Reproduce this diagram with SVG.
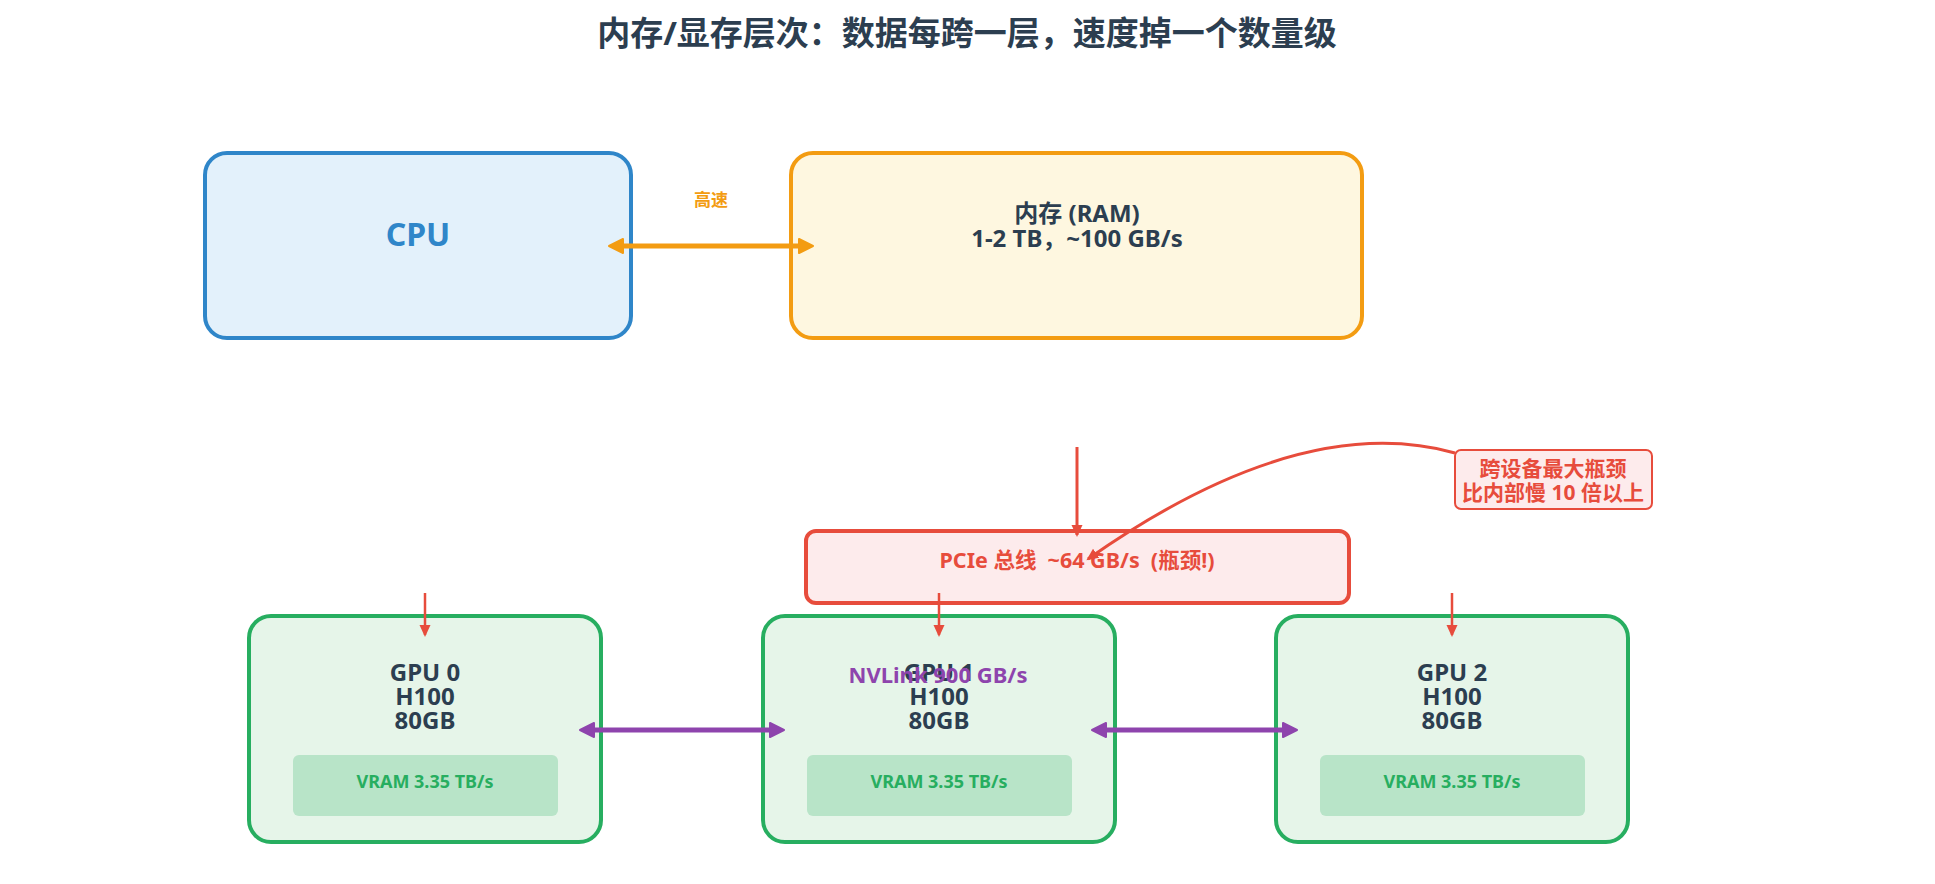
<svg xmlns="http://www.w3.org/2000/svg" width="1935" height="884" viewBox="0 0 1935 884">
<style>
text{font-family:"Noto Sans","Noto Sans CJK SC",sans-serif;font-weight:bold;text-anchor:middle;white-space:pre}
.title{font-size:33px;fill:#2c3e50}
.dark{fill:#2c3e50}
.gpu rect.box{fill:#e6f5e9;stroke:#27ae60;stroke-width:4}
.gpu rect.vram{fill:#b8e4c8}
.gpu text.name{font-size:24px;fill:#2c3e50}
.gpu text.vr{font-size:18px;fill:#27ae60}
.red{stroke:#e74c3c;fill:none}
</style>
<defs>
<marker id="hO" markerUnits="userSpaceOnUse" markerWidth="18" markerHeight="18" refX="10" refY="8" orient="auto-start-reverse"><path d="M1,1 L15,8 L1,15 z" fill="#f39c12" stroke="#f39c12" stroke-width="2" stroke-linejoin="round"/></marker>
<marker id="hP" markerUnits="userSpaceOnUse" markerWidth="18" markerHeight="18" refX="10" refY="8" orient="auto-start-reverse"><path d="M1,1 L15,8 L1,15 z" fill="#8e44ad" stroke="#8e44ad" stroke-width="2" stroke-linejoin="round"/></marker>
<marker id="hR" markerUnits="userSpaceOnUse" markerWidth="14" markerHeight="14" refX="10" refY="6" orient="auto"><path d="M0,0.5 L12,6 L0,11.5 z" fill="#e74c3c"/></marker>
</defs>

<text class="title" x="967" y="45">内存/显存层次：数据每跨一层，速度掉一个数量级</text>

<g id="cpu">
<rect x="205" y="153" width="426" height="185" rx="22" fill="#e3f1fb" stroke="#2f86c9" stroke-width="4"/>
<text x="418" y="246" font-size="32" fill="#2f86c9">CPU</text>
</g>

<g id="ram">
<rect x="791" y="153" width="571" height="185" rx="22" fill="#fef7e0" stroke="#f39c12" stroke-width="4"/>
<text class="dark" x="1077" y="222" font-size="24">内存 (RAM)</text>
<text class="dark" x="1077" y="247" font-size="24">1-2 TB，~100 GB/s</text>
</g>

<g id="pcie">
<rect x="806" y="531" width="543" height="72" rx="10" fill="#fdebec" stroke="#e74c3c" stroke-width="4"/>
<text x="1077" y="568" font-size="21.5" fill="#e74c3c">PCIe 总线  ~64 GB/s  (瓶颈!)</text>
</g>

<g id="callout">
<rect x="1455" y="450" width="197" height="59" rx="6" fill="#fdebec" stroke="#e74c3c" stroke-width="2"/>
<text x="1553" y="476" font-size="21" fill="#e74c3c">跨设备最大瓶颈</text>
<text x="1553" y="500" font-size="21" fill="#e74c3c">比内部慢 10 倍以上</text>
</g>

<g id="gpu0" class="gpu">
<rect class="box" x="249" y="616" width="352" height="226" rx="22"/>
<text class="name" x="425" y="681">GPU 0</text>
<text class="name" x="425" y="705">H100</text>
<text class="name" x="425" y="729">80GB</text>
<rect class="vram" x="293" y="755" width="265" height="61" rx="6"/>
<text class="vr" x="425" y="788">VRAM 3.35 TB/s</text>
</g>

<g id="gpu1" class="gpu">
<rect class="box" x="763" y="616" width="352" height="226" rx="22"/>
<text class="name" x="939" y="681">GPU 1</text>
<text class="name" x="939" y="705">H100</text>
<text class="name" x="939" y="729">80GB</text>
<rect class="vram" x="807" y="755" width="265" height="61" rx="6"/>
<text class="vr" x="939" y="788">VRAM 3.35 TB/s</text>
</g>

<g id="gpu2" class="gpu">
<rect class="box" x="1276" y="616" width="352" height="226" rx="22"/>
<text class="name" x="1452" y="681">GPU 2</text>
<text class="name" x="1452" y="705">H100</text>
<text class="name" x="1452" y="729">80GB</text>
<rect class="vram" x="1320" y="755" width="265" height="61" rx="6"/>
<text class="vr" x="1452" y="788">VRAM 3.35 TB/s</text>
</g>

<g id="connectors">
<line x1="614" y1="246" x2="808" y2="246" stroke="#f39c12" stroke-width="5" marker-start="url(#hO)" marker-end="url(#hO)"/>
<text x="711" y="206" font-size="17" fill="#f39c12">高速</text>
<line class="red" x1="1077" y1="447" x2="1077" y2="535" stroke-width="3" marker-end="url(#hR)"/>
<path class="red" d="M1455,453 Q1300,410 1088,559" stroke-width="3" marker-end="url(#hR)"/>
<line class="red" x1="425" y1="593" x2="425" y2="635" stroke-width="2.5" marker-end="url(#hR)"/>
<line class="red" x1="939" y1="593" x2="939" y2="635" stroke-width="2.5" marker-end="url(#hR)"/>
<line class="red" x1="1452" y1="593" x2="1452" y2="635" stroke-width="2.5" marker-end="url(#hR)"/>
<line x1="585" y1="730" x2="779" y2="730" stroke="#8e44ad" stroke-width="5" marker-start="url(#hP)" marker-end="url(#hP)"/>
<line x1="1097" y1="730" x2="1292" y2="730" stroke="#8e44ad" stroke-width="5" marker-start="url(#hP)" marker-end="url(#hP)"/>
<text x="938" y="683" font-size="22" fill="#8e44ad">NVLink 900 GB/s</text>
</g>
</svg>
